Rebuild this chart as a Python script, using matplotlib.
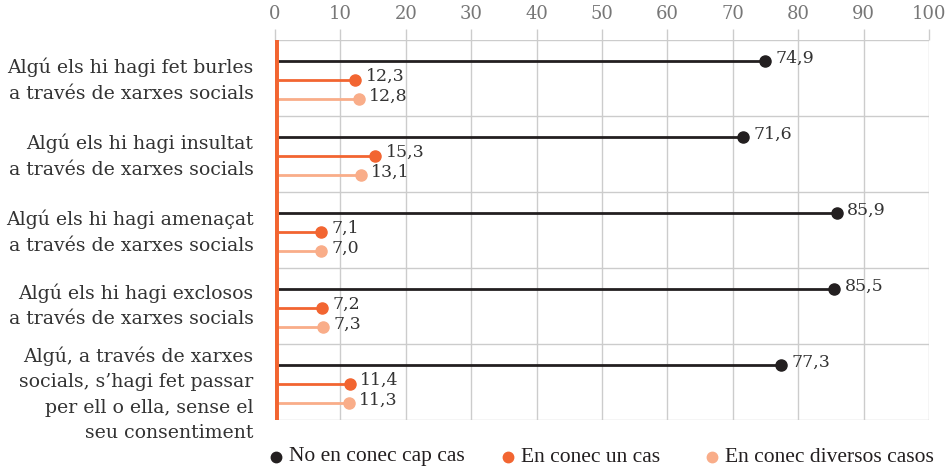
import numpy as np
import matplotlib.pyplot as plt
from matplotlib.lines import Line2D

# --- data ---
categories = [
    "Algú els hi hagi fet burles\na través de xarxes socials",
    "Algú els hi hagi insultat\na través de xarxes socials",
    "Algú els hi hagi amenaçat\na través de xarxes socials",
    "Algú els hi hagi exclosos\na través de xarxes socials",
    "Algú, a través de xarxes\nsocials, s’hagi fet passar\nper ell o ella, sense el\nseu consentiment",
]
series_names = ["No en conec cap cas", "En conec un cas", "En conec diversos casos"]
no_case = [74.9, 71.6, 85.9, 85.5, 77.3]
one_case = [12.3, 15.3, 7.1, 7.2, 11.4]
several_cases = [12.8, 13.1, 7.0, 7.3, 11.3]

colors = ["#231f20", "#f26531", "#f9ad89"]
offsets = [-0.22, 0.02, 0.28]
grey = "#cccccc"

plt.rcParams["font.family"] = ["DejaVu Serif"]

fig = plt.figure(figsize=(9.51, 4.70), dpi=100)
ax = fig.add_axes([275 / 951, 1 - 420 / 470, (929 - 275) / 951, (420 - 40) / 470])

n = len(categories)
centers = np.arange(n) + 0.5
for vals, col, off in zip([no_case, one_case, several_cases], colors, offsets):
    ys = centers + off
    for v, y in zip(vals, ys):
        ax.plot([0.4, v], [y, y], color=col, lw=2, solid_capstyle="butt", zorder=3)
        ax.plot(v, y, "o", color=col, ms=8, zorder=4)
        ax.text(v + 1.6, y - 0.04, f"{v:.1f}".replace(".", ","), fontsize=12.5,
                color="#333333", va="center", ha="left", zorder=5)

# orange axis line at zero
ax.axvline(0, color="#f26531", lw=5, zorder=6)

ax.set_xlim(0, 100)
ax.set_ylim(n, 0)
ax.set_xticks(np.arange(0, 101, 10))
ax.xaxis.tick_top()
ax.tick_params(axis="x", colors=grey, labelcolor="#777777", labelsize=13,
               length=8, width=1, pad=4)
ax.set_yticks(np.arange(n + 1), minor=False)
ax.set_yticklabels([])
ax.tick_params(axis="y", length=0)
ax.grid(True, color=grey, lw=1, zorder=0)
for s in ax.spines.values():
    s.set_visible(False)

# long last label hangs a bit lower in the original
label_shift = [0.03, 0.03, 0.03, 0.0, 0.16]
for c, lab, sh in zip(centers, categories, label_shift):
    ax.text(-3.3, c + sh, lab, ha="right", va="center", fontsize=13.6,
            color="#333333", linespacing=1.52, transform=ax.transData)

# legend, one entry at a time to place it like the reference
leg_marker_x = [276, 508, 712]
for name, col, mx in zip(series_names, colors, leg_marker_x):
    fig.lines.append(Line2D([mx / 951], [1 - 457 / 470], marker="o", ls="", color=col,
                            ms=7.5, transform=fig.transFigure))
    fig.text((mx + 13) / 951, 1 - 457 / 470, name, ha="left", va="center",
             fontsize=15.5, color="#231f20", family="Liberation Serif")

fig.savefig("out.png", dpi=100)
